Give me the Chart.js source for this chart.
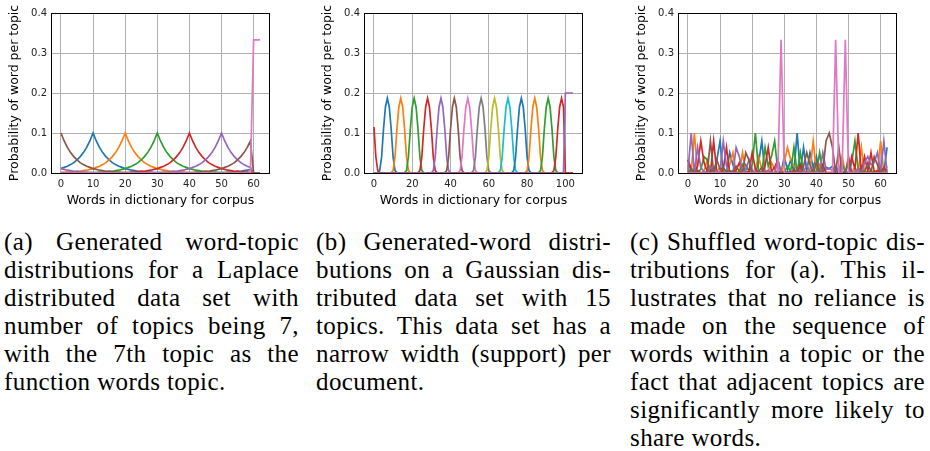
<!DOCTYPE html>
<html>
<head>
<meta charset="utf-8">
<script src="https://cdn.jsdelivr.net/npm/chart.js@4.4.0/dist/chart.umd.min.js"></script>
<style>
  body { margin: 0; width: 930px; height: 451px; background: #fff; position: relative; overflow: hidden; }
  .panel { position: absolute; top: 0; width: 300px; height: 215px; }
  .cap { position: absolute; top: 228px; width: 295px; font-family: "Liberation Serif", "Times New Roman", serif;
         font-size: 25px; letter-spacing: 0.4px; line-height: 28px; color: #000; }
  .cap div { height: 28px; text-align: justify; text-align-last: justify; }
  .cap div.last { text-align-last: left; }
</style>
</head>
<body>
<div class="panel" style="left:0px"><canvas id="chartA" width="300" height="215"></canvas></div>
<div class="panel" style="left:313px"><canvas id="chartB" width="300" height="215"></canvas></div>
<div class="panel" style="left:627px"><canvas id="chartC" width="300" height="215"></canvas></div>

<div class="cap" style="left:4px">
  <div>(a) Generated word-topic</div>
  <div>distributions for a Laplace</div>
  <div>distributed data set with</div>
  <div>number of topics being 7,</div>
  <div>with the 7th topic as the</div>
  <div class="last">function words topic.</div>
</div>
<div class="cap" style="left:316px">
  <div>(b) Generated-word distri-</div>
  <div>butions on a Gaussian dis-</div>
  <div>tributed data set with 15</div>
  <div>topics. This data set has a</div>
  <div>narrow width (support) per</div>
  <div class="last">document.</div>
</div>
<div class="cap" style="left:630px">
  <div>(c) Shuffled word-topic dis-</div>
  <div>tributions for (a). This il-</div>
  <div>lustrates that no reliance is</div>
  <div>made on the sequence of</div>
  <div>words within a topic or the</div>
  <div>fact that adjacent topics are</div>
  <div>significantly more likely to</div>
  <div class="last">share words.</div>
</div>

<script>
// words in the dictionary (panels a and c)
const wordIndex = [0,1,2,3,4,5,6,7,8,9,10,11,12,13,14,15,16,17,18,19,20,21,22,23,24,25,26,27,28,29,30,
  31,32,33,34,35,36,37,38,39,40,41,42,43,44,45,46,47,48,49,50,51,52,53,54,55,56,57,58,59,60,61,62];

const xTicksA = [0, 10, 20, 30, 40, 50, 60];
const xTicksB = [0, 20, 40, 60, 80, 100];
const yTicks = [0, 0.1, 0.2, 0.3, 0.4];
const yTickLabels = ['0.0', '0.1', '0.2', '0.3', '0.4'];

const tab10 = ['#1f77b4', '#ff7f0e', '#2ca02c', '#d62728', '#9467bd', '#8c564b', '#e377c2', '#7f7f7f', '#bcbd22', '#17becf'];

// (a) Laplace topics
const blueA = [.011,.014,.017,.021,.026,.033,.041,.051,.064,.08,
  .1,.08,.064,.051,.041,.033,.026,.021,.017,.014,
  .011,.009,.007,.006,.004,.004,.003,.002,.002,.001,
  .001,.001,.001,.001,0,0,0,0,0,0,
  0,0,0,0,0,0,0,.001,.001,.001,
  .001,.001,.002,.002,.003,.004,.004,.006,.007,.009, 0,0,0];
const orangeA = [.001,.001,.002,.002,.003,.004,.004,.006,.007,.009,
  .011,.014,.017,.021,.026,.033,.041,.051,.064,.08,
  .1,.08,.064,.051,.041,.033,.026,.021,.017,.014,
  .011,.009,.007,.006,.004,.004,.003,.002,.002,.001,
  .001,.001,.001,.001,0,0,0,0,0,0,
  0,0,0,0,0,0,0,.001,.001,.001, 0,0,0];
const greenA = [0,0,0,0,0,0,0,.001,.001,.001,
  .001,.001,.002,.002,.003,.004,.004,.006,.007,.009,
  .011,.014,.017,.021,.026,.033,.041,.051,.064,.08,
  .1,.08,.064,.051,.041,.033,.026,.021,.017,.014,
  .011,.009,.007,.006,.004,.004,.003,.002,.002,.001,
  .001,.001,.001,.001,0,0,0,0,0,0, 0,0,0];
const redA = [.001,.001,.001,.001,0,0,0,0,0,0,
  0,0,0,0,0,0,0,.001,.001,.001,
  .001,.001,.002,.002,.003,.004,.004,.006,.007,.009,
  .011,.014,.017,.021,.026,.033,.041,.051,.064,.08,
  .1,.08,.064,.051,.041,.033,.026,.021,.017,.014,
  .011,.009,.007,.006,.004,.004,.003,.002,.002,.001, 0,0,0];
const purpleA = [.011,.009,.007,.006,.004,.004,.003,.002,.002,.001,
  .001,.001,.001,.001,0,0,0,0,0,0,
  0,0,0,0,0,0,0,.001,.001,.001,
  .001,.001,.002,.002,.003,.004,.004,.006,.007,.009,
  .011,.014,.017,.021,.026,.033,.041,.051,.064,.08,
  .1,.08,.064,.051,.041,.033,.026,.021,.017,.014, 0,0,0];
const brownA = [.1,.08,.064,.051,.041,.033,.026,.021,.017,.014,
  .011,.009,.007,.006,.004,.004,.003,.002,.002,.001,
  .001,.001,.001,.001,0,0,0,0,0,0,
  0,0,0,0,0,0,0,.001,.001,.001,
  .001,.001,.002,.002,.003,.004,.004,.006,.007,.009,
  .011,.014,.017,.021,.026,.033,.041,.051,.064,.08, 0,0,0];
const pinkA = [0,0,0,0,0,0,0,0,0,0, 0,0,0,0,0,0,0,0,0,0, 0,0,0,0,0,0,0,0,0,0,
  0,0,0,0,0,0,0,0,0,0, 0,0,0,0,0,0,0,0,0,0, 0,0,0,0,0,0,0,0,0,0, .333,.333,.333];

// (b) Gaussian topics, [word, probability]
const gaussB1 = [[0,0],[1,0],[2,.001],[3,.006],[4,.04],[5,.11],[6,.165],[7,.187],[8,.165],[9,.11],[10,.04],[11,.006],[12,.001],[13,0],[104,0]];
const gaussB2 = [[0,0],[8,0],[9,.001],[10,.006],[11,.04],[12,.11],[13,.165],[14,.187],[15,.165],[16,.11],[17,.04],[18,.006],[19,.001],[20,0],[104,0]];
const gaussB3 = [[0,0],[15,0],[16,.001],[17,.006],[18,.04],[19,.11],[20,.165],[21,.187],[22,.165],[23,.11],[24,.04],[25,.006],[26,.001],[27,0],[104,0]];
const gaussB4 = [[0,0],[22,0],[23,.001],[24,.006],[25,.04],[26,.11],[27,.165],[28,.187],[29,.165],[30,.11],[31,.04],[32,.006],[33,.001],[34,0],[104,0]];
const gaussB5 = [[0,0],[29,0],[30,.001],[31,.006],[32,.04],[33,.11],[34,.165],[35,.187],[36,.165],[37,.11],[38,.04],[39,.006],[40,.001],[41,0],[104,0]];
const gaussB6 = [[0,0],[36,0],[37,.001],[38,.006],[39,.04],[40,.11],[41,.165],[42,.187],[43,.165],[44,.11],[45,.04],[46,.006],[47,.001],[48,0],[104,0]];
const gaussB7 = [[0,0],[43,0],[44,.001],[45,.006],[46,.04],[47,.11],[48,.165],[49,.187],[50,.165],[51,.11],[52,.04],[53,.006],[54,.001],[55,0],[104,0]];
const gaussB8 = [[0,0],[50,0],[51,.001],[52,.006],[53,.04],[54,.11],[55,.165],[56,.187],[57,.165],[58,.11],[59,.04],[60,.006],[61,.001],[62,0],[104,0]];
const gaussB9 = [[0,0],[57,0],[58,.001],[59,.006],[60,.04],[61,.11],[62,.165],[63,.187],[64,.165],[65,.11],[66,.04],[67,.006],[68,.001],[69,0],[104,0]];
const gaussB10 = [[0,0],[64,0],[65,.001],[66,.006],[67,.04],[68,.11],[69,.165],[70,.187],[71,.165],[72,.11],[73,.04],[74,.006],[75,.001],[76,0],[104,0]];
const gaussB11 = [[0,0],[71,0],[72,.001],[73,.006],[74,.04],[75,.11],[76,.165],[77,.187],[78,.165],[79,.11],[80,.04],[81,.006],[82,.001],[83,0],[104,0]];
const gaussB12 = [[0,0],[78,0],[79,.001],[80,.006],[81,.04],[82,.11],[83,.165],[84,.187],[85,.165],[86,.11],[87,.04],[88,.006],[89,.001],[90,0],[104,0]];
const gaussB13 = [[0,0],[85,0],[86,.001],[87,.006],[88,.04],[89,.11],[90,.165],[91,.187],[92,.165],[93,.11],[94,.04],[95,.006],[96,.001],[97,0],[104,0]];
const gaussB14 = [[0,.115],[1,.04],[2,.006],[3,.001],[4,0],[92,0],[93,.001],[94,.006],[95,.04],[96,.11],[97,.165],[98,.187],[99,.165],[100,0],[104,0]];
const functionB = [[0,0],[99,0],[100,.2],[101,.2],[102,.2],[103,.2],[104,.2]];

// (c) shuffled word columns of (a)
const blueC = [0,.001,.011,.001,0,0,.004,.009,0,.033,
  .08,.001,0,.051,.021,.002,0,.006,.021,.004,
  0,.001,.026,.08,.001,0,.003,.001,0,0,
  .041,.007,.033,.002,.1,.001,.064,.006,.051,.014,
  .041,.002,.001,.014,.011,.017,0,.007,.004,0,
  .026,0,.001,0,.017,0,.003,0,.004,.002, .009,.001,.064];
const orangeC = [.004,0,.1,0,.001,.004,.033,.001,.001,.004,
  .014,0,.001,.021,.051,0,0,.051,.002,0,
  .002,.011,.041,.009,.007,.002,.026,.009,0,0,
  .026,.064,.033,.017,.011,.006,.007,.001,.006,.08,
  .004,.021,0,.001,.001,.002,0,.001,.041,0,
  .003,.003,.014,.001,.064,0,0,.001,0,0, .08,0,.017];
const greenC = [.033,.001,.011,.002,.009,.041,.033,0,.014,0,
  .001,.001,.007,.002,.006,.001,.003,.021,0,0,
  .021,.1,.004,.001,.064,.017,.041,.08,.004,0,
  .003,.017,.004,.064,.001,.051,.001,0,.001,.009,
  0,.051,.002,0,0,0,0,0,.026,0,
  0,.026,.08,.011,.007,.004,0,.006,0,.001, .014,.001,.002];
const redC = [.033,.011,.001,.017,.08,.026,.004,.001,.08,0,
  0,.009,.064,0,.001,.007,.026,.002,.001,.004,
  .051,.011,0,0,.017,.064,.004,.014,.033,0,
  0,.002,0,.007,0,.021,0,.002,0,.001,
  0,.006,.021,.001,.001,.001,0,.002,.003,0,
  0,.041,.009,.1,.001,.041,.004,.051,.003,.006, .001,.014,0];
const purpleC = [.004,.1,0,.064,.014,.003,0,.014,.009,.004,
  .001,.08,.017,.001,0,.064,.041,0,.006,.033,
  .006,.001,0,.001,.002,.007,0,.001,.033,0,
  0,0,0,.001,.001,.002,.002,.021,.002,0,
  .003,.001,.051,.009,.011,.007,0,.017,0,0,
  .004,.004,.001,.011,0,.026,.041,.021,.026,.051, 0,.08,.001];
const brownC = [0,.011,.001,.007,.001,0,0,.08,.001,.033,
  .009,.014,.002,.006,.002,.017,.004,.001,.051,.033,
  .001,0,.003,.014,0,.001,0,0,.004,0,
  .004,.001,.004,0,.011,0,.017,.051,.021,.001,
  .026,0,.006,.08,.1,.064,0,.064,0,0,
  .041,0,0,.001,.002,.003,.026,.002,.041,.021, .001,.009,.007];
const pinkC = [0,0,0,0,0,0,0,0,0,0, 0,0,0,0,0,0,0,0,0,0, 0,0,0,0,0,0,0,0,0,.333,
  0,0,0,0,0,0,0,0,0,0, 0,0,0,0,0,0,.333,0,0,.333, 0,0,0,0,0,0,0,0,0,0, 0,0,0];

function pointsOf(values) {
  return values.map((y, i) => ({ x: wordIndex[i], y: y }));
}
function pairsOf(pairs) {
  return pairs.map(p => ({ x: p[0], y: p[1] }));
}

// box round the plot area, like matplotlib spines
const frame = {
  id: 'frame',
  afterDatasetsDraw(chart) {
    const a = chart.chartArea, ctx = chart.ctx;
    ctx.save();
    ctx.strokeStyle = '#000';
    ctx.lineWidth = 1;
    ctx.strokeRect(Math.round(a.left) + 0.5, Math.round(a.top) + 0.5,
      Math.round(a.right - a.left) - 1, Math.round(a.bottom - a.top));
    ctx.restore();
  }
};

function makeChart(id, series, xMin, xMax, xTicks) {
  const gridStyle = { color: '#b0b0b0', lineWidth: 1, drawTicks: false };
  const tickFont = { family: 'DejaVu Sans', size: 10 };
  const titleFont = { family: 'DejaVu Sans', size: 12.5 };
  new Chart(document.getElementById(id), {
    type: 'line',
    data: {
      datasets: series.map((s, i) => ({
        data: s.data,
        borderColor: s.color,
        borderWidth: 1.7,
        pointRadius: 0,
        tension: 0,
        fill: false,
        order: series.length - i
      }))
    },
    options: {
      responsive: false,
      animation: false,
      layout: { padding: { left: 0, right: 30, top: 13, bottom: 0 } },
      plugins: { legend: { display: false }, tooltip: { enabled: false } },
      scales: {
        x: {
          type: 'linear', min: xMin, max: xMax,
          afterBuildTicks: ax => { ax.ticks = xTicks.map(v => ({ value: v })); },
          afterFit: ax => { ax.height = 42; },
          grid: gridStyle,
          border: { display: false },
          ticks: { font: tickFont, color: '#222', padding: 5, maxRotation: 0,
                   callback: (v, i) => String(xTicks[i]) },
          title: { display: true, text: 'Words in dictionary for corpus', font: titleFont,
                   color: '#000', padding: { top: 0, bottom: 7 } }
        },
        y: {
          type: 'linear', min: 0, max: 0.4,
          afterBuildTicks: ax => { ax.ticks = yTicks.map(v => ({ value: v })); },
          afterFit: ax => { ax.width = 51; },
          grid: gridStyle,
          border: { display: false },
          ticks: { font: tickFont, color: '#222', padding: 4,
                   callback: (v, i) => yTickLabels[i] },
          title: { display: true, text: 'Probability of word per topic', font: titleFont,
                   color: '#000', padding: { top: 7, bottom: 0 } }
        }
      }
    },
    plugins: [frame]
  });
}

makeChart('chartA', [
  { data: pointsOf(blueA), color: tab10[0] },
  { data: pointsOf(orangeA), color: tab10[1] },
  { data: pointsOf(greenA), color: tab10[2] },
  { data: pointsOf(redA), color: tab10[3] },
  { data: pointsOf(purpleA), color: tab10[4] },
  { data: pointsOf(brownA), color: tab10[5] },
  { data: pointsOf(pinkA), color: tab10[6] }
], -3.1, 65.1, xTicksA);

const gaussTopics = [gaussB1, gaussB2, gaussB3, gaussB4, gaussB5, gaussB6, gaussB7,
  gaussB8, gaussB9, gaussB10, gaussB11, gaussB12, gaussB13, gaussB14, functionB];
makeChart('chartB', gaussTopics.map((t, i) => ({ data: pairsOf(t), color: tab10[i % 10] })),
  -5.2, 109.2, xTicksB);

makeChart('chartC', [
  { data: pointsOf(blueC), color: tab10[0] },
  { data: pointsOf(orangeC), color: tab10[1] },
  { data: pointsOf(greenC), color: tab10[2] },
  { data: pointsOf(redC), color: tab10[3] },
  { data: pointsOf(purpleC), color: tab10[4] },
  { data: pointsOf(brownC), color: tab10[5] },
  { data: pointsOf(pinkC), color: tab10[6] }
], -3.1, 65.1, xTicksA);
</script>
</body>
</html>
